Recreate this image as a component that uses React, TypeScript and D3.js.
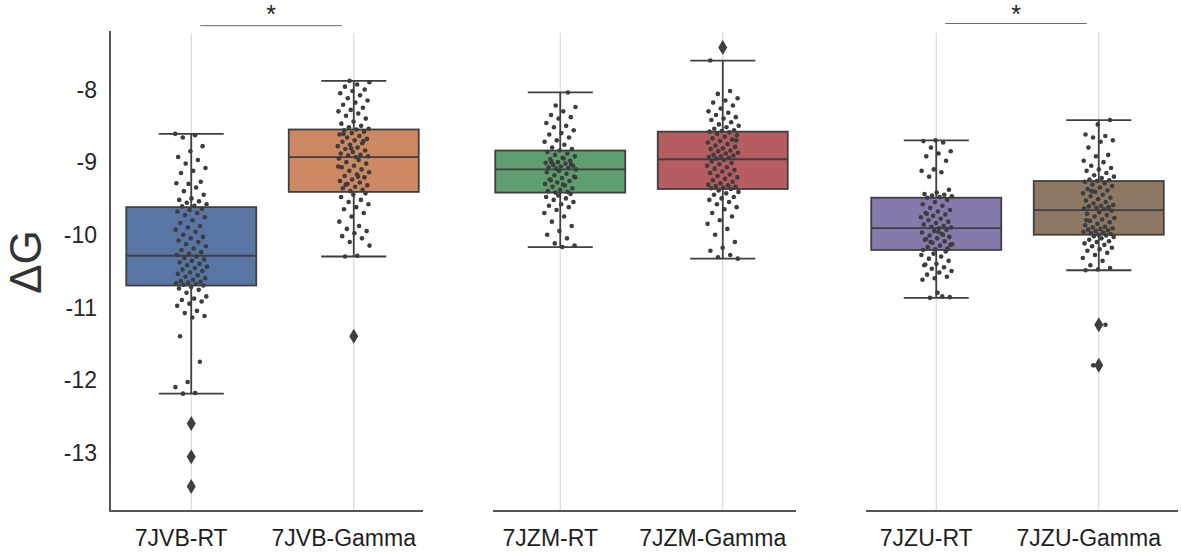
import React, { useEffect, useRef } from 'react';
import * as d3 from 'd3';

// ---- data ----
const panels = [
  ['7JVB-RT', '7JVB-Gamma'],
  ['7JZM-RT', '7JZM-Gamma'],
  ['7JZU-RT', '7JZU-Gamma'],
];

const groups = ['7JVB-RT', '7JVB-Gamma', '7JZM-RT', '7JZM-Gamma', '7JZU-RT', '7JZU-Gamma'];

// box stats: [whiskerLow, q1, median, q3, whiskerHigh]
const boxStats: [number, number, number, number, number][] = [
  [-12.19, -10.70, -10.29, -9.62, -8.61],
  [-10.30, -9.41, -8.93, -8.55, -7.88],
  [-10.17, -9.42, -9.10, -8.84, -8.04],
  [-10.33, -9.37, -8.96, -8.58, -7.60],
  [-10.87, -10.21, -9.91, -9.49, -8.70],
  [-10.49, -10.00, -9.66, -9.26, -8.42],
];

const outliers: number[][] = [
  [-12.6, -13.06, -13.47],
  [-11.40],
  [],
  [-7.42],
  [],
  [-11.24, -11.80],
];

const points7JVBRT = [
  -8.61, -8.63, -8.66, -8.78, -8.85, -8.93, -8.97, -9.02, -9.08, -9.12, -9.15, -9.27,
  -9.30, -9.29, -9.35, -9.40, -9.45, -9.50, -9.52, -9.54, -9.56, -9.58, -9.60, -9.61,
  -9.64, -9.66, -9.68, -9.70, -9.73, -9.76, -9.80, -9.84, -9.88, -9.90, -9.93, -9.96,
  -10.00, -10.03, -10.05, -10.08, -10.10, -10.13, -10.16, -10.19, -10.21, -10.24, -10.26, -10.28,
  -10.30, -10.32, -10.34, -10.36, -10.38, -10.40, -10.42, -10.44, -10.46, -10.48, -10.50, -10.52,
  -10.54, -10.56, -10.58, -10.60, -10.62, -10.64, -10.65, -10.66, -10.67, -10.68, -10.69, -10.70,
  -10.72, -10.74, -10.76, -10.80, -10.85, -10.88, -10.90, -10.92, -10.95, -10.98, -11.05, -11.08,
  -11.12, -11.14, -11.40, -11.75, -12.03, -12.10, -12.18, -12.19,
];
const points7JVBGamma = [
  -7.88, -7.90, -7.93, -7.96, -8.00, -8.02, -8.05, -8.08, -8.12, -8.15, -8.18, -8.21,
  -8.25, -8.28, -8.30, -8.33, -8.36, -8.40, -8.44, -8.47, -8.50, -8.52, -8.54, -8.55,
  -8.56, -8.58, -8.60, -8.62, -8.64, -8.66, -8.68, -8.70, -8.72, -8.74, -8.76, -8.78,
  -8.80, -8.82, -8.84, -8.86, -8.88, -8.90, -8.91, -8.92, -8.93, -8.61, -8.71, -8.81,
  -8.95, -8.97, -9.00, -9.02, -9.05, -9.07, -9.10, -9.12, -9.14, -9.17, -9.19, -9.21,
  -9.24, -9.26, -9.28, -9.30, -9.32, -9.34, -9.36, -9.38, -9.40, -9.06, -9.20, -9.31,
  -9.43, -9.45, -9.48, -9.52, -9.55, -9.58, -9.62, -9.65, -9.70, -9.75, -9.82, -9.88,
  -9.92, -9.95, -9.98, -10.02, -10.05, -10.10, -10.15, -10.29, -10.30,
];
const points7JZMRT = [
  -8.04, -8.22, -8.24, -8.30, -8.35, -8.38, -8.40, -8.46, -8.50, -8.52, -8.56, -8.60,
  -8.62, -8.66, -8.70, -8.72, -8.76, -8.80, -8.82, -8.84,
  -8.86, -8.88, -8.90, -8.92, -8.94, -8.96, -8.98, -9.00, -9.01, -9.02, -9.04, -9.05,
  -9.06, -9.07, -9.08, -9.09, -9.10, -8.95, -9.00, -9.03,
  -9.12, -9.14, -9.16, -9.18, -9.20, -9.22, -9.24, -9.26, -9.28, -9.30, -9.32, -9.34,
  -9.36, -9.38, -9.40, -9.41, -9.42, -9.21, -9.31, -9.25,
  -9.44, -9.46, -9.48, -9.50, -9.52, -9.55, -9.58, -9.60, -9.62, -9.66, -9.70, -9.75,
  -9.82, -9.88, -9.95, -10.00, -10.05, -10.12, -10.15, -10.17,
];
const points7JZMGamma = [
  -7.60, -8.02, -8.06, -8.12, -8.15, -8.18, -8.22, -8.26, -8.30, -8.32, -8.35, -8.38,
  -8.40, -8.42, -8.45, -8.48, -8.50, -8.52, -8.54, -8.56, -8.57, -8.58,
  -8.59, -8.61, -8.63, -8.65, -8.67, -8.69, -8.71, -8.73, -8.75, -8.77, -8.79, -8.81,
  -8.82, -8.84, -8.85, -8.87, -8.88, -8.90, -8.91, -8.92, -8.93, -8.94, -8.95, -8.70,
  -8.97, -8.99, -9.01, -9.03, -9.05, -9.07, -9.09, -9.11, -9.13, -9.15, -9.17, -9.19,
  -9.21, -9.23, -9.25, -9.27, -9.29, -9.31, -9.32, -9.33, -9.34, -9.35, -9.36, -9.37,
  -9.39, -9.41, -9.43, -9.45, -9.48, -9.50, -9.52, -9.55, -9.58, -9.62, -9.65, -9.70,
  -9.75, -9.80, -9.85, -9.92, -10.00, -10.10, -10.18, -10.22, -10.28, -10.31, -10.33,
];
const points7JZURT = [
  -8.70, -8.71, -8.73, -8.80, -8.85, -8.88, -8.92, -8.98, -9.10, -9.12, -9.14, -9.20,
  -9.38, -9.42, -9.44, -9.45, -9.46, -9.47, -9.48, -9.49,
  -9.52, -9.55, -9.58, -9.60, -9.63, -9.66, -9.68, -9.70, -9.72, -9.74, -9.76, -9.78,
  -9.80, -9.82, -9.84, -9.86, -9.88, -9.89, -9.90, -9.91, -9.71,
  -9.93, -9.95, -9.97, -9.99, -10.01, -10.03, -10.05, -10.07, -10.09, -10.11, -10.13, -10.15,
  -10.17, -10.19, -10.20, -10.21, -10.00, -10.10, -10.14, -9.96, -10.06,
  -10.23, -10.26, -10.28, -10.30, -10.33, -10.36, -10.40, -10.42, -10.45, -10.47, -10.50, -10.52,
  -10.55, -10.58, -10.60, -10.62, -10.85, -10.87, -10.86, -10.80, -10.41,
];
const points7JZUGamma = [
  -8.42, -8.48, -8.62, -8.64, -8.66, -8.70, -8.72, -8.80, -8.90, -8.92, -8.98, -9.00,
  -9.05, -9.08, -9.10, -9.12, -9.15, -9.18, -9.20, -9.22, -9.24, -9.25, -9.26,
  -9.27, -9.29, -9.31, -9.33, -9.35, -9.37, -9.39, -9.41, -9.43, -9.45, -9.47, -9.49,
  -9.51, -9.53, -9.55, -9.57, -9.59, -9.60, -9.61, -9.62, -9.63, -9.64, -9.65, -9.40,
  -9.67, -9.69, -9.71, -9.73, -9.75, -9.77, -9.79, -9.81, -9.83, -9.85, -9.87, -9.89,
  -9.90, -9.91, -9.92, -9.93, -9.94, -9.95, -9.96, -9.97, -9.98, -9.99, -10.00, -9.80,
  -10.01, -10.02, -10.03, -10.05, -10.07, -10.09, -10.10, -10.12, -10.14, -10.16, -10.18, -10.20,
  -10.22, -10.25, -10.28, -10.32, -10.36, -10.42, -10.46, -10.48, -10.49, -11.24, -11.80,
];

const groupPoints = [points7JVBRT, points7JVBGamma, points7JZMRT, points7JZMGamma, points7JZURT, points7JZUGamma];

const boxColors = ['#5875a4', '#cc8963', '#5f9e6e', '#b55d60', '#857aab', '#8d7866'];

const yTicks = [-8, -9, -10, -11, -12, -13];

// significance brackets: [groupA, groupB, level]
const brackets: [string, string, number][] = [
  ['7JVB-RT', '7JVB-Gamma', -7.12],
  ['7JZU-RT', '7JZU-Gamma', -7.09],
];

const App: React.FC = () => {
  const svgRef = useRef<SVGSVGElement>(null);

  useEffect(() => {
    if (!svgRef.current) return;
    const svg = d3.select(svgRef.current);
    svg.selectAll('*').remove();

    const width = 1181;
    const height = 554;
    const font = "'Liberation Sans', Arial, Helvetica, sans-serif";
    const lineColor = '#3f3f3f';

    const top = 32;
    const bottom = 511;

    const y = d3.scaleLinear().domain([-13.8, -7.2]).range([bottom - 0.5, top - 0.5]);

    // panel layout: band start and axis line extent
    const panelStart = [110, 479, 855];
    const axisExtent: [number, number][] = [[110, 423], [493, 796], [866, 1178]];

    const xByGroup: Record<string, number> = {};
    let bandWidth = 0;
    panels.forEach((cats, p) => {
      const x = d3.scaleBand<string>()
        .domain(cats)
        .range([panelStart[p], panelStart[p] + 325])
        .paddingInner(0)
        .paddingOuter(0);
      bandWidth = x.bandwidth();
      cats.forEach(c => { xByGroup[c] = (x(c) ?? 0) + x.bandwidth() / 2; });
    });

    const boxW = bandWidth * 0.8;
    const g = svg.append('g');

    // vertical grid lines at categories
    groups.forEach(name => {
      g.append('line')
        .attr('x1', xByGroup[name]).attr('x2', xByGroup[name])
        .attr('y1', top + 1).attr('y2', bottom)
        .attr('stroke', '#dadada')
        .attr('stroke-width', 1.2);
    });

    // axes lines
    g.append('line')
      .attr('x1', 110).attr('x2', 110)
      .attr('y1', top - 1).attr('y2', bottom + 1)
      .attr('stroke', '#555').attr('stroke-width', 2);
    axisExtent.forEach(([a, b]) => {
      g.append('line')
        .attr('x1', a).attr('x2', b)
        .attr('y1', bottom).attr('y2', bottom)
        .attr('stroke', '#555').attr('stroke-width', 2);
    });

    // y tick labels
    yTicks.forEach(t => {
      g.append('text')
        .attr('x', 97)
        .attr('y', y(t))
        .attr('dy', '0.36em')
        .attr('text-anchor', 'end')
        .attr('font-family', font)
        .attr('font-size', 23)
        .attr('fill', '#262626')
        .text(d3.format('d')(t).replace('−', '-'));
    });

    // y axis title
    g.append('text')
      .attr('transform', `translate(41,262) rotate(-90)`)
      .attr('text-anchor', 'middle')
      .attr('font-family', font)
      .attr('font-size', 44)
      .attr('fill', '#333')
      .text('ΔG');

    // x labels
    groups.forEach(name => {
      g.append('text')
        .attr('x', xByGroup[name] - 10)
        .attr('y', 546)
        .attr('text-anchor', 'middle')
        .attr('font-family', font)
        .attr('font-size', 23)
        .attr('fill', '#1e1e1e')
        .text(name);
    });

    // boxes
    groups.forEach((name, i) => {
      const cx = xByGroup[name];
      const [lo, q1, med, q3, hi] = boxStats[i];
      const bg = g.append('g');

      bg.append('line')
        .attr('x1', cx).attr('x2', cx)
        .attr('y1', y(hi)).attr('y2', y(lo))
        .attr('stroke', lineColor).attr('stroke-width', 1.8);

      [lo, hi].forEach(v => {
        bg.append('line')
          .attr('x1', cx - boxW / 4).attr('x2', cx + boxW / 4)
          .attr('y1', y(v)).attr('y2', y(v))
          .attr('stroke', lineColor).attr('stroke-width', 1.8);
      });

      bg.append('rect')
        .attr('x', cx - boxW / 2)
        .attr('y', y(q3))
        .attr('width', boxW)
        .attr('height', y(q1) - y(q3))
        .attr('fill', boxColors[i])
        .attr('stroke', lineColor)
        .attr('stroke-width', 1.8);

      bg.append('line')
        .attr('x1', cx - boxW / 2).attr('x2', cx + boxW / 2)
        .attr('y1', y(med)).attr('y2', y(med))
        .attr('stroke', lineColor).attr('stroke-width', 1.8);

      // fliers as diamonds
      outliers[i].forEach(v => {
        const py = y(v);
        bg.append('path')
          .attr('d', `M${cx},${py - 7.5}L${cx + 4.5},${py}L${cx},${py + 7.5}L${cx - 4.5},${py}Z`)
          .attr('fill', lineColor);
      });
    });

    // strip points with deterministic jitter
    const jitter = 16;
    groups.forEach((name, i) => {
      const cx = xByGroup[name];
      g.append('g')
        .selectAll('circle')
        .data(groupPoints[i])
        .join('circle')
        .attr('cx', (_, k) => cx + (((k * 0.6180339887 + i * 0.37) % 1) - 0.5) * 2 * jitter)
        .attr('cy', d => y(d))
        .attr('r', 2.3)
        .attr('fill', '#3d3d3d');
    });

    // significance brackets
    brackets.forEach(([a, b, level]) => {
      const x1 = xByGroup[a] + 9;
      const x2 = xByGroup[b] - 12;
      const ly = y(level);
      g.append('line')
        .attr('x1', x1).attr('x2', x2)
        .attr('y1', ly).attr('y2', ly)
        .attr('stroke', '#666').attr('stroke-width', 1);
      g.append('text')
        .attr('x', (x1 + x2) / 2)
        .attr('y', 23)
        .attr('text-anchor', 'middle')
        .attr('font-family', font)
        .attr('font-size', 25)
        .attr('fill', '#222')
        .text('*');
    });

    svg.attr('width', width).attr('height', height);
  }, []);

  return (
    <svg
      ref={svgRef}
      width={1181}
      height={554}
      style={{ position: 'absolute', left: 0, top: 0, background: '#fff' }}
    />
  );
};

export default App;
